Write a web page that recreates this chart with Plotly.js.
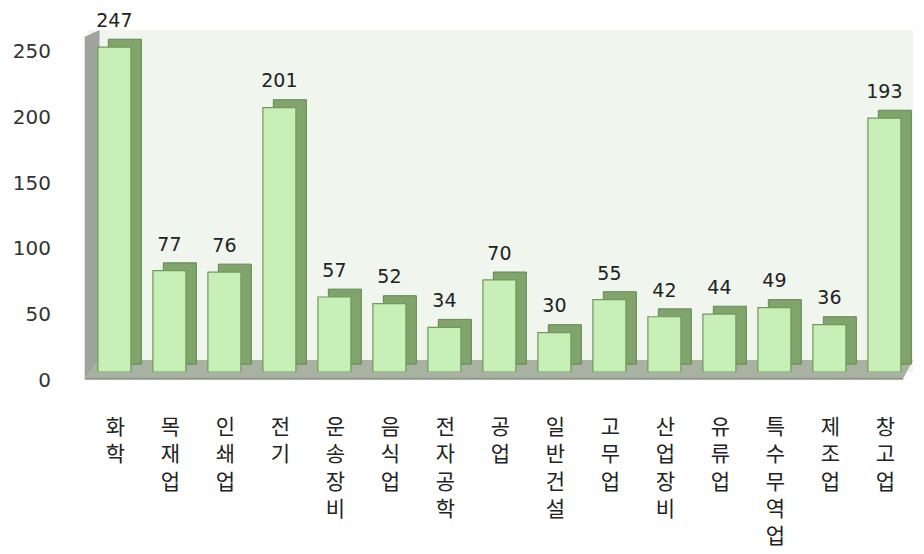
<!DOCTYPE html>
<html><head><meta charset="utf-8">
<script src="https://cdn.plot.ly/plotly-3.0.1.min.js"></script>
<style>html,body{margin:0;padding:0;background:#fff}#c{width:924px;height:554px}</style>
</head><body><div id="c"></div>
<script>
const categories = ['화학','목재업','인쇄업','전기','운송장비','음식업','전자공학','공업','일반건설','고무업','산업장비','유류업','특수무역업','제조업','창고업'];
const values = [247,77,76,201,57,52,34,70,30,55,42,44,49,36,193];
const yTicks = [0,50,100,150,200,250];

const tickText = categories.map(c => c.split('').join('<br>'));

const side = {type:'bar', x:categories, y:values, width:0.6, offset:-0.13,
  marker:{color:'#80a46b', line:{color:'#5e8a4c', width:1}}, hoverinfo:'skip', showlegend:false};
const front = {type:'bar', x:categories, y:values, yaxis:'y2', width:0.6, offset:-0.32,
  marker:{color:'#c9efb8', line:{color:'#6f9a58', width:1.2}}, showlegend:false};
const labels = {type:'bar', x:categories, y:values, yaxis:'y3', width:0.6, offset:-0.32,
  marker:{color:'rgba(0,0,0,0)'}, text:values.map(String), textposition:'outside', constraintext:'none',
  textfont:{family:'DejaVu Sans', size:19, color:'#222'}, cliponaxis:false, hoverinfo:'skip', showlegend:false};

const layout = {
  width:924, height:554,
  margin:{l:88, r:11, t:30, b:182},
  paper_bgcolor:'#ffffff', plot_bgcolor:'#f0f5ee',
  barmode:'overlay', bargap:0.4,
  font:{family:'DejaVu Sans', color:'#333'},
  xaxis:{tickvals:categories, ticktext:tickText, tickangle:0, showline:false, ticks:'',
    tickfont:{family:'Noto Sans CJK KR', size:21, color:'#222'}, ticklabelstandoff:40, fixedrange:true},
  yaxis:{range:[-6,254], tickvals:yTicks, showgrid:false, zeroline:false, showline:false, showticklabels:false},
  yaxis2:{range:[0,260], overlaying:'y', tickvals:yTicks, showgrid:false, zeroline:false, showline:false,
    tickfont:{family:'DejaVu Sans', size:20, color:'#333'}, ticklabelstandoff:36, ticklabelshift:8},
  yaxis3:{range:[-10,250], overlaying:'y', visible:false},
  shapes:[
    {type:'path', xref:'paper', yref:'paper', layer:'below',
     path:'M -0.004,-0.02 L 0.014,0.035 L 1.0,0.035 L 0.988,-0.02 Z', fillcolor:'#a9b1a3', line:{width:0}},
    {type:'line', xref:'paper', yref:'paper', layer:'below', x0:-0.004, x1:0.988, y0:-0.02, y1:-0.02,
     line:{color:'#8e968a', width:2}},
    {type:'path', xref:'paper', yref:'paper', layer:'below',
     path:'M -0.004,-0.02 L -0.004,0.98 L 0.014,1.0 L 0.014,0.035 Z', fillcolor:'#9ea39b', line:{width:0}}
  ]
};
Plotly.newPlot('c',[side,front,labels],layout,{displayModeBar:false,staticPlot:true});
</script></body></html>
